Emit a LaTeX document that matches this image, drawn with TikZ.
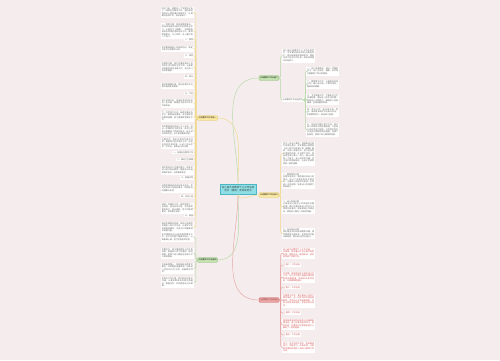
\documentclass[tikz,border=0pt]{standalone}
\usepackage{fontspec}
\newfontfamily\cjk{Noto Sans CJK SC}
\XeTeXlinebreaklocale "zh"
\XeTeXlinebreakskip=0pt plus 0.5pt
\definecolor{bgcol}{HTML}{F5EDED}
\definecolor{cyanfill}{HTML}{8EE0E6}
\definecolor{cyandraw}{HTML}{4DB6C2}
\definecolor{grfill}{HTML}{C6E4B2}
\definecolor{grdraw}{HTML}{7FB56C}
\definecolor{grline}{HTML}{B5D9A6}
\definecolor{yefill}{HTML}{FCE9A4}
\definecolor{yedraw}{HTML}{E0C255}
\definecolor{yeline}{HTML}{F0DA8C}
\definecolor{rdfill}{HTML}{E9A5A5}
\definecolor{rddraw}{HTML}{CF6464}
\definecolor{rdline}{HTML}{E6A2A2}
\definecolor{rdtext}{HTML}{D24E4E}
\tikzset{
  mapline/.style={line width=0.45pt, rounded corners=2pt},
  para/.style={fill=white, text=black!62, font=\cjk\fontsize{2}{2.5}\selectfont,
    text width=31pt, inner sep=1pt, align=justify},
  tagline/.style={fill=white, text=black!62, font=\cjk\fontsize{2}{2.5}\selectfont, inner sep=0.7pt},
  topic/.style={draw, rounded corners=1pt, line width=0.35pt, font=\cjk\fontsize{2}{2.5}\selectfont,
    minimum width=20pt, minimum height=4.6pt, inner sep=0.5pt},
}
\begin{document}
\begin{tikzpicture}[x=1pt,y=-1pt]
  \fill[bgcol] (0,0) rectangle (500,360);
  \useasboundingbox (0,0) rectangle (500,360);

  % centre and main topics
  \node[draw=cyandraw, fill=cyanfill, line width=0.35pt, text=black!75, font=\cjk\fontsize{2.5}{3.2}\selectfont,
    align=center, minimum width=36pt, minimum height=10pt, inner sep=0.8pt] (c) at (238,189)
    {幼儿园大班教师个人工作总结\\范文（通用）及体会范文};
  \node[topic, draw=yedraw, fill=yefill] (ly) at (207.5,118) {大班教师工作总结一};
  \node[topic, draw=grdraw, fill=grfill] (lg) at (207.5,260) {大班教师工作总结四};
  \node[topic, draw=grdraw, fill=grfill] (rg) at (269,78) {大班教师工作总结二};
  \node[topic, draw=yedraw, fill=yefill] (ry) at (269,195) {大班教师工作总结三};
  \node[topic, draw=rddraw, fill=rdfill, text=rdtext!70!black] (rr) at (269,300) {大班教师工作总结五};

  \draw[mapline, draw=yeline] (c.north) to[out=90,in=0] (ly.east);
  \draw[mapline, draw=grline] (c.south) to[out=-90,in=0] (lg.east);
  \draw[mapline, draw=grline] (c.north) to[out=90,in=180] (rg.west);
  \draw[mapline, draw=yeline] (c.south) to[out=-90,in=180] (ry.west);
  \draw[mapline, draw=rdline] (c.south) to[out=-90,in=180] (rr.west);

  % left, yellow
  \node[para, anchor=north east] (ly1) at (194,6.5) {时光飞逝，转眼间一个学期又过去了。回顾这学期的工作，我在园领导的关心和同事们的帮助下，认真做好各项工作，现总结如下。};
  \node[para, anchor=north east] (ly2) at (194,22.5) {一、思想方面：我热爱教育事业，积极参加园内组织的各项政治学习，认真学习《纲要》，不断提高自身的思想觉悟和业务水平，做到爱岗敬业，为人师表，关心爱护每一个幼儿。};
  \node[tagline, anchor=east] (ly3) at (194,39.5) {二、教育};
  \node[para, anchor=north east] (ly4) at (194,45.5) {本学期根据幼儿的年龄特点，制定切实可行的教学计划。};
  \node[tagline, anchor=east] (ly5) at (194,56) {三、保育};
  \node[para, anchor=north east] (ly6) at (194,61.5) {在保育方面，我们注重培养幼儿良好的生活习惯和卫生习惯，认真做好班级的清洁消毒工作，关注幼儿的身体健康。};
  \node[tagline, anchor=east] (ly7) at (194,77) {四、家长};
  \node[para, anchor=north east] (ly8) at (194,82.5) {通过家园联系册、家长会等形式与家长保持密切联系。};
  \node[tagline, anchor=east] (ly9) at (194,93.5) {五、不足};
  \node[para, anchor=north east] (ly10) at (194,98.5) {由于经验不足，在组织活动时还存在一些问题，需要在今后的工作中不断改进。};
  \node[para, anchor=north east] (ly11) at (194,110.5) {六、今后努力方向：继续加强业务学习，提高自身素质，多向有经验的教师请教，努力提高教育教学水平。};
  \node[para, anchor=north east] (ly12) at (194,124.5) {本学期我班共有幼儿三十五名，经过一学期的学习和生活，孩子们在各方面都有了明显的进步，能主动与同伴交往，乐于参加集体活动。};
  \node[para, anchor=north east] (ly13) at (194,137.5) {在教学中，我们以游戏为基本活动，寓教育于各项活动之中，创设丰富的区域环境，让幼儿在玩中学、学中玩，激发幼儿的兴趣。};
  \node[tagline, anchor=east] (ly14) at (194,152.5) {一、加强安全教育工作};
  \node[tagline, anchor=east] (ly15) at (194,159.5) {二、做好卫生保健};
  \node[para, anchor=north east] (ly16) at (194,165.5) {我们把安全工作放在首位，经常对幼儿进行安全教育，提高幼儿的自我保护意识，杜绝事故发生。};
  \node[tagline, anchor=east] (ly17) at (194,178) {三、家园共育};
  \node[para, anchor=north east] (ly18) at (194,183.5) {利用早晚接送时间与家长交流，及时反馈幼儿在园的情况，取得家长的理解与支持。};
  \node[tagline, anchor=east] (ly19) at (194,196.5) {四、反思小结};
  \node[para, anchor=north east] (ly20) at (194,202.5) {回顾一学期的工作，虽然取得了一些成绩，但也存在不足，今后我将更加努力，扬长避短，把工作做得更好，争取更大进步。};
  \node[tagline, anchor=east] (ly21) at (194,215.5) {五、展望};
  \node[para, anchor=north east] (ly22) at (194,221.5) {新的学期即将到来，我将以饱满的热情投入到工作中去，认真学习先进的教育理念，为孩子们的健康成长贡献力量。};
  \foreach \i in {1,...,22}
    \draw[mapline, draw=yeline] (ly.west) -- ++(-1.5,0) |- (ly\i.east);

  % left, green
  \node[para, anchor=north east] (lg1) at (194,232.5) {本学期我担任大班的教育教学工作，在工作中我严格要求自己，认真备课上课，努力完成各项任务。};
  \node[para, anchor=north east] (lg2) at (194,247.5) {在教学中，我注重发挥幼儿的主体作用，尊重幼儿的个体差异，因材施教，使每个幼儿都能在原有水平上得到提高。};
  \node[para, anchor=north east] (lg3) at (194,262.5) {在班级管理上，我和配班老师密切配合，共同制定班级常规，培养幼儿良好的行为习惯，班级秩序井然。};
  \node[para, anchor=north east] (lg4) at (194,276.5) {在家长工作方面，我们积极与家长沟通，认真听取家长的意见和建议，家园合作，共同促进幼儿的发展。};
  \foreach \i in {1,...,4}
    \draw[mapline, draw=grline] (lg.west) -- ++(-1.5,0) |- (lg\i.east);

  % right, green
  \node[para, anchor=north west] (rg1) at (282,48.5) {幼儿园大班教师个人工作总结范文，本学期在园领导的正确指导下，我与班级老师团结协作，顺利完成了各项工作任务，现将具体情况总结如下。};
  \node[tagline, anchor=west] (rg2) at (282,100) {大班教师工作总结范文};
  \draw[mapline, draw=grline] (rg.east) -- ++(1.5,0) |- (rg1.west);
  \draw[mapline, draw=grline] (rg.east) -- ++(1.5,0) |- (rg2.west);
  \node[para, anchor=north west] (rs1) at (306,66.5) {一、幼儿发展情况：通过一学期的学习，幼儿在语言、健康、科学等方面都有了较大的提高。};
  \node[para, anchor=north west] (rs2) at (306,79.5) {二、教育教学工作：认真制定各项计划，精心设计每一个教学活动，做到目标明确。};
  \node[para, anchor=north west] (rs3) at (306,93.5) {三、卫生保健工作：严格执行卫生消毒制度，做好幼儿的生活护理，培养幼儿自理能力，确保幼儿身体健康，全班出勤率较高。};
  \node[para, anchor=north west] (rs4) at (306,107.5) {四、家长工作：通过家长会、家访、电话等多种形式与家长交流，形成教育合力，促进幼儿发展。};
  \node[para, anchor=north west] (rs5) at (306,122.5) {五、存在的问题与努力方向：部分幼儿的常规习惯还需加强，个别幼儿的动手能力较弱，今后我们将针对这些问题制定相应措施，加强个别指导，使每个幼儿都得到发展。};
  \foreach \i in {1,...,5}
    \draw[mapline, draw=grline] (rg2.east) -- ++(1.5,0) |- (rs\i.west);

  % right, yellow
  \node[para, anchor=north west] (ry1) at (282,141.5) {作为一名幼儿教师，我深知自己肩负的责任重大。本学期我认真贯彻《幼儿园工作规程》和《纲要》精神，以幼儿发展为本，努力创设宽松愉快的环境。在日常工作中，我始终坚持以爱心、耐心、细心对待每一个孩子，关心他们的冷暖，关注他们的情绪变化，让孩子们感受到家一般的温暖。};
  \node[para, anchor=north west] (ry2) at (282,172.5) {一、教育教学方面\\在教学活动中，我根据大班幼儿的特点，设计了丰富多彩的主题活动，注重幼儿的操作与体验，引导幼儿主动探索，培养幼儿的观察力和创造力。};
  \node[para, anchor=north west] (ry3) at (282,199.5) {二、幼小衔接方面\\大班是幼儿园与小学衔接的关键时期，我们注重培养幼儿的学习习惯和任务意识，开展参观小学等活动，帮助幼儿做好入学前的准备。};
  \node[para, anchor=north west] (ry4) at (282,227.5) {三、自身成长方面\\我利用业余时间阅读教育书籍，撰写教育笔记和反思，在实践中不断总结经验，提升自己的专业能力。};
  \foreach \i in {1,...,4}
    \draw[mapline, draw=yeline] (ry.east) -- ++(1.5,0) |- (ry\i.west);

  % right, red
  \tikzset{para/.append style={text=rdtext}, tagline/.append style={text=rdtext}}
  \node[para, anchor=north west] (rr1) at (282,247.5) {幼儿园大班教师个人工作总结，一学期来，我本着对工作认真负责的态度，兢兢业业，踏踏实实，较好地完成了本职工作。};
  \node[tagline, anchor=west] (rr2) at (285,265) {篇二：工作总结};
  \node[para, anchor=north west] (rr3) at (282,271.5) {本学期，我继续担任大班的班主任工作，在工作中我严格遵守园内的各项规章制度，积极参与各项活动，与同事和睦相处。};
  \node[tagline, anchor=west] (rr4) at (285,287.5) {篇三：工作总结};
  \node[para, anchor=north west] (rr5) at (282,293.5) {在教育工作中，我注重幼儿良好习惯的培养，在一日生活中渗透各种教育，引导幼儿学会自我服务，学会与同伴友好相处，学会分享与合作。};
  \node[tagline, anchor=west] (rr6) at (285,313) {篇四：工作总结};
  \node[para, anchor=north west] (rr7) at (282,318.5) {我积极参加园内组织的公开课和观摩活动，虚心向其他老师学习，取长补短，在教学方法和组织能力上都有了一定的提高。};
  \node[tagline, anchor=west] (rr8) at (285,335) {篇五：工作总结};
  \node[para, anchor=north west] (rr9) at (282,341.5) {总之，在今后的工作中，我将继续努力，不断学习，不断反思，以更加饱满的热情投入到幼儿教育工作中去。};
  \foreach \i in {1,...,9}
    \draw[mapline, draw=rdline] (rr.east) -- ++(1.5,0) |- (rr\i.west);
\end{tikzpicture}
\end{document}
